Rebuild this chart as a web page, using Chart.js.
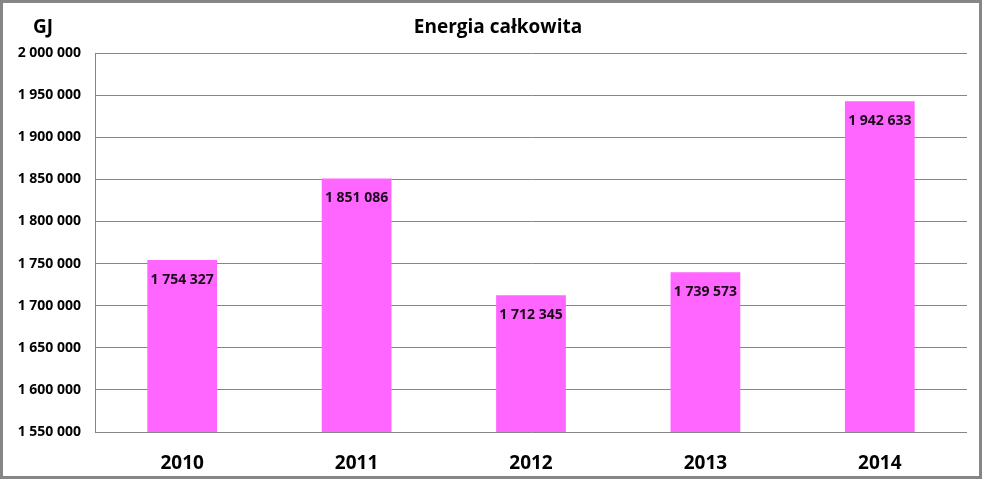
<!DOCTYPE html>
<html>
<head>
<meta charset="utf-8">
<script src="https://cdn.jsdelivr.net/npm/chart.js@4/dist/chart.umd.min.js"></script>
<style>
  html, body { margin: 0; padding: 0; background: #fff; }
  #wrap {
    width: 982px; height: 479px; box-sizing: border-box;
    border: 3px solid #868686; background: #fff;
  }
  canvas { display: block; }
</style>
</head>
<body>
<div id="wrap"><canvas id="chart" width="976" height="473"></canvas></div>
<script>
const years = ['2010', '2011', '2012', '2013', '2014'];
const energy = [1754327, 1851086, 1712345, 1739573, 1942633];
const chartTitle = 'Energia całkowita';
const unitLabel = 'GJ';

const FONT = '"Open Sans", sans-serif';

function fmt(v) {
  return String(v).replace(/\B(?=(\d{3})+(?!\d))/g, ' ');
}

const textPlugin = {
  id: 'texts',
  afterDatasetsDraw(chart) {
    const ctx = chart.ctx;
    ctx.save();
    // value labels inside bar tops
    const meta = chart.getDatasetMeta(0);
    ctx.font = 'bold 14px ' + FONT;
    ctx.fillStyle = '#1a0a1a';
    ctx.textAlign = 'center';
    ctx.textBaseline = 'middle';
    meta.data.forEach((bar, i) => {
      ctx.fillText(fmt(energy[i]), bar.x, bar.y + 20);
    });
    // title and unit
    ctx.font = 'bold 19px ' + FONT;
    ctx.fillStyle = '#000';
    ctx.fillText(chartTitle, 495, 25);
    ctx.fillText(unitLabel, 40, 25);
    ctx.restore();
  }
};

new Chart(document.getElementById('chart'), {
  type: 'bar',
  data: {
    labels: years,
    datasets: [{
      data: energy,
      backgroundColor: '#ff66ff',
      borderWidth: 0,
      categoryPercentage: 1,
      barPercentage: 0.4
    }]
  },
  options: {
    responsive: false,
    animation: false,
    layout: { padding: { top: 50, right: 12, bottom: 0, left: 0 } },
    plugins: {
      legend: { display: false },
      tooltip: { enabled: false }
    },
    scales: {
      x: {
        grid: { display: false },
        border: { display: false },
        ticks: {
          color: '#000',
          font: { size: 19, weight: 'bold', family: FONT },
          padding: 12
        },
        afterFit(scale) { scale.height = 44; }
      },
      y: {
        min: 1550000,
        max: 2000000,
        grid: { color: '#868686', lineWidth: 1, drawTicks: false },
        border: { display: true, color: '#868686', width: 1 },
        ticks: {
          stepSize: 50000,
          color: '#000',
          padding: 14,
          font: { size: 14, weight: 'bold', family: FONT },
          callback: v => fmt(v)
        },
        afterFit(scale) { scale.width = 92; }
      }
    }
  },
  plugins: [textPlugin]
});
</script>
</body>
</html>
